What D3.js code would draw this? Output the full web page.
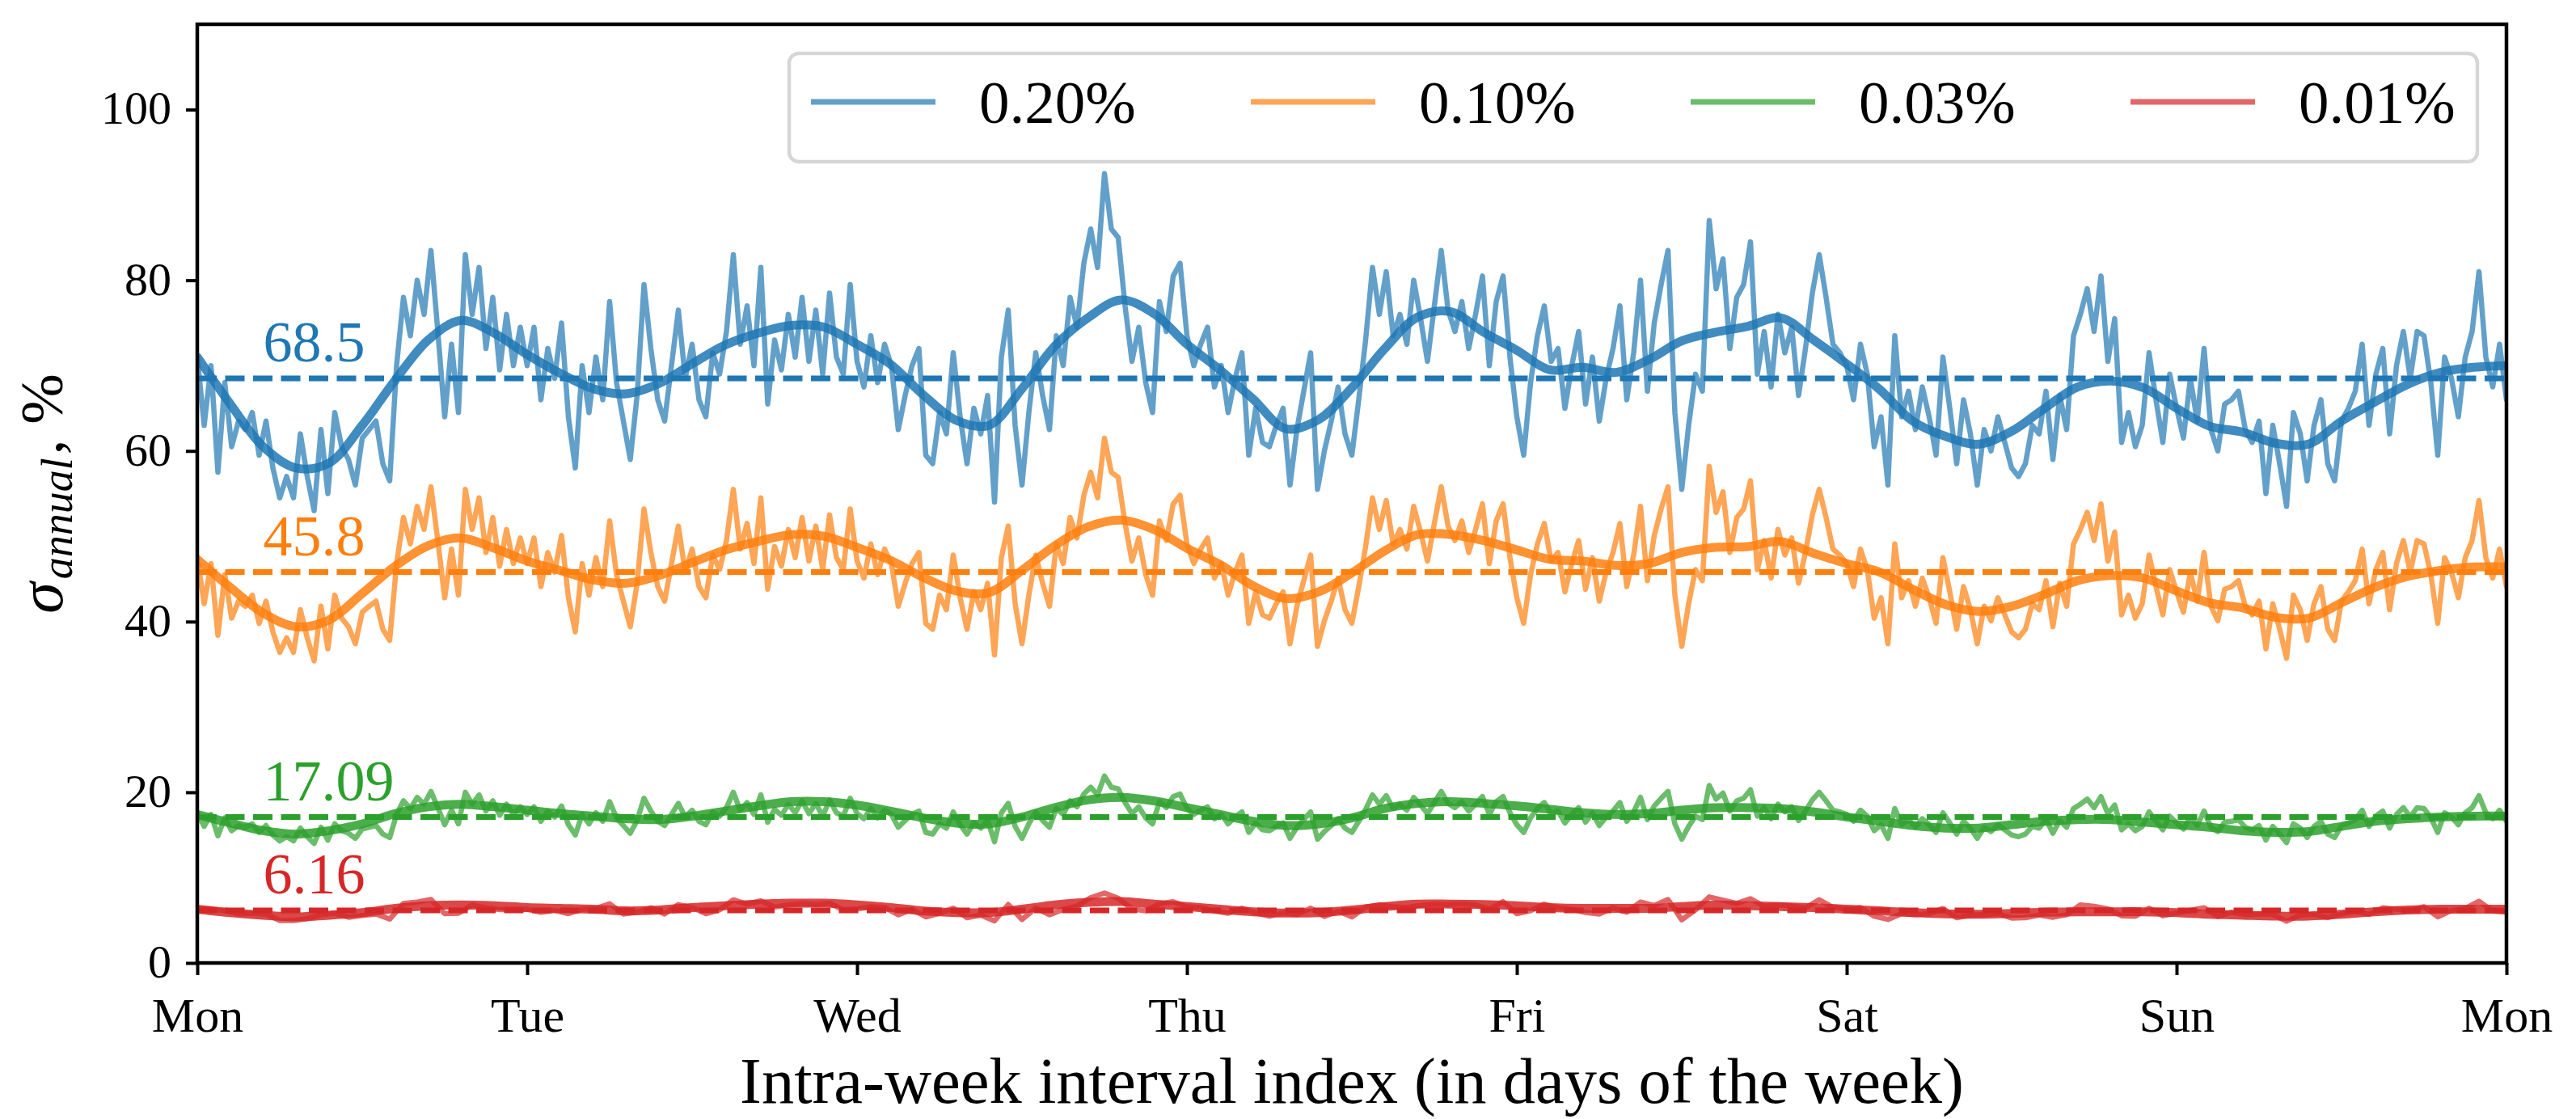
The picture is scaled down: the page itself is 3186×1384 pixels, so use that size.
<!DOCTYPE html>
<html><head><meta charset="utf-8">
<script src="https://cdn.jsdelivr.net/npm/d3@7"></script>
<style>
body{margin:0;background:#fff}
svg{display:block}
text{font-family:"Liberation Serif","Times New Roman",serif;fill:#000}
</style>
</head><body>
<svg id="chart" width="3186" height="1384"></svg>
<script>
// ---------------- data ----------------
const dayLabels = ["Mon","Tue","Wed","Thu","Fri","Sat","Sun","Mon"];
const yTickValues = [0,20,40,60,80,100];
const seriesNames = ["0.20%","0.10%","0.03%","0.01%"];
const seriesColors = ["#1f77b4","#ff7f0e","#2ca02c","#d62728"];
const meanValues = [68.5, 45.8, 17.09, 6.16];
const meanLabels = ["68.5","45.8","17.09","6.16"];

// raw intra-week volatility, half-hour grid (337 points, Mon 00:00 .. next Mon 00:00)
const raw020 = [
71.0,63.0,70.0,57.5,68.0,60.5,63.5,62.5,64.5,59.5,63.5,58.0,54.5,57.0,54.5,62.0,57.0,53.0,62.5,55.0,64.5,60.5,59.0,56.0,61.5,62.5,63.5,58.5,56.5,70.0,78.0,73.5,80.0,76.0,83.5,74.0,64.0,72.5,64.5,83.0,76.0,81.5,72.0,78.0,69.5,76.0,70.0,74.5,
70.0,74.5,66.0,72.0,68.5,75.0,64.0,58.0,70.0,64.5,71.0,66.0,77.5,68.0,63.5,59.0,66.5,79.5,72.0,66.0,63.5,70.0,76.5,68.5,72.5,66.0,64.0,71.5,69.0,74.0,83.0,72.5,77.0,70.0,81.5,65.5,73.0,69.5,76.0,71.0,78.0,70.5,76.5,69.0,78.5,71.0,69.0,79.5,
70.5,67.5,73.5,68.0,72.5,70.0,62.5,66.5,70.0,72.0,59.5,58.5,64.5,62.0,71.5,64.0,58.5,65.0,62.0,66.5,54.0,71.0,76.5,63.0,56.0,64.5,71.5,66.5,62.5,73.5,70.0,78.0,74.5,82.0,86.0,81.5,92.5,86.0,85.0,77.0,70.5,74.5,68.0,64.5,77.5,74.0,80.5,82.0,
73.5,70.0,72.5,74.5,67.5,70.0,64.5,68.5,71.5,59.5,65.0,61.0,60.5,63.0,65.0,56.0,62.5,67.0,71.5,55.5,60.0,63.5,67.5,62.0,59.5,66.0,73.0,81.5,76.0,81.0,73.5,76.0,72.5,80.0,75.5,70.5,77.0,83.5,76.5,74.0,77.5,72.0,76.0,80.5,70.0,77.5,80.5,71.0,
64.0,59.5,68.0,73.5,77.0,70.5,72.0,65.0,70.0,74.0,65.5,71.0,63.5,68.5,72.0,77.0,66.0,71.5,80.0,67.0,75.0,79.5,83.5,64.5,55.5,63.0,69.0,67.0,87.0,79.0,82.5,72.0,78.0,79.5,84.5,69.0,74.0,67.5,76.0,71.5,74.5,66.5,72.0,78.5,83.0,78.0,72.5,71.5,
70.0,66.0,72.5,69.0,60.5,64.0,56.0,73.5,64.0,67.0,62.5,67.5,64.0,59.5,71.0,65.0,58.5,66.0,62.0,56.0,62.5,60.0,64.0,61.0,58.0,57.0,58.5,63.0,62.0,67.0,59.0,66.5,62.5,73.5,76.0,79.0,74.0,80.5,70.5,75.5,61.0,64.5,60.5,63.0,71.5,66.0,61.0,69.0,
65.0,61.5,68.5,63.5,72.0,62.5,60.0,65.5,66.0,67.0,62.5,61.0,63.5,55.0,63.0,58.5,53.5,64.5,62.0,56.5,63.0,66.0,58.5,56.5,63.5,65.0,67.0,72.5,63.0,69.0,72.0,62.0,70.0,74.0,68.5,74.0,73.5,68.0,59.5,71.0,68.5,64.0,71.0,74.0,81.0,71.0,67.5,72.5,66.0
];
const raw010 = [
47.5,42.1,46.8,38.4,45.5,40.4,42.4,41.8,43.1,39.8,42.4,38.8,36.4,38.1,36.4,41.4,38.1,35.4,41.8,36.8,43.1,40.4,39.4,37.4,41.1,41.8,42.4,39.1,37.8,46.8,52.2,49.1,53.5,50.8,55.8,49.5,42.8,48.5,43.1,55.5,50.8,54.5,48.1,52.2,46.5,50.8,46.8,49.8,
46.8,49.8,44.1,48.1,45.8,50.1,42.8,38.8,46.8,43.1,47.5,44.1,51.8,45.5,42.4,39.4,44.5,53.2,48.1,44.1,42.4,46.8,51.2,45.8,48.5,44.1,42.8,47.8,46.1,49.5,55.5,48.5,51.5,46.8,54.5,43.8,48.8,46.5,50.8,47.5,52.2,47.1,51.2,46.1,52.5,47.5,46.1,53.2,
47.1,45.1,49.1,45.5,48.5,46.8,41.8,44.5,46.8,48.1,39.8,39.1,43.1,41.4,47.8,42.8,39.1,43.5,41.4,44.5,36.1,47.5,51.2,42.1,37.4,43.1,47.8,44.5,41.8,49.1,46.8,52.2,49.8,54.8,57.5,54.5,61.5,57.5,56.9,51.5,47.1,49.8,45.5,43.1,51.8,49.5,53.8,54.8,
49.1,46.8,48.5,49.8,45.1,46.8,43.1,45.8,47.8,39.8,43.5,40.8,40.4,42.1,43.5,37.4,41.8,44.8,47.8,37.1,40.1,42.4,45.1,41.4,39.8,44.1,48.8,54.5,50.8,54.2,49.1,50.8,48.5,53.5,50.5,47.1,51.5,55.8,51.2,49.5,51.8,48.1,50.8,53.8,46.8,51.8,53.8,47.5,
42.8,39.8,45.5,49.1,51.5,47.1,48.1,43.5,46.8,49.5,43.8,47.5,42.4,45.8,48.1,51.5,44.1,47.8,53.5,44.8,50.1,53.2,55.8,43.1,37.1,42.1,46.1,44.8,58.2,52.8,55.2,48.1,52.2,53.2,56.5,46.1,49.5,45.1,50.8,47.8,49.8,44.5,48.1,52.5,55.5,52.2,48.5,47.8,
46.8,44.1,48.5,46.1,40.4,42.8,37.4,49.1,42.8,44.8,41.8,45.1,42.8,39.8,47.5,43.5,39.1,44.1,41.4,37.4,41.8,40.1,42.8,40.8,38.8,38.1,39.1,42.1,41.4,44.8,39.4,44.5,41.8,49.1,50.8,52.8,49.5,53.8,47.1,50.5,40.8,43.1,40.4,42.1,47.8,44.1,40.8,46.1,
43.5,41.1,45.8,42.4,48.1,41.8,40.1,43.8,44.1,44.8,41.8,40.8,42.4,36.8,42.1,39.1,35.7,43.1,41.4,37.8,42.1,44.1,39.1,37.8,42.4,43.5,44.8,48.5,42.1,46.1,48.1,41.4,46.8,49.5,45.8,49.5,49.1,45.5,39.8,47.5,45.8,42.8,47.5,49.5,54.2,47.5,45.1,48.5,44.1
];
const raw003 = [
17.6,16.0,17.4,14.9,17.0,15.5,16.1,15.9,16.3,15.3,16.1,15.0,14.3,14.8,14.3,15.8,14.8,14.0,15.9,14.4,16.3,15.5,15.2,14.6,15.7,15.9,16.1,15.1,14.7,17.4,19.0,18.1,19.4,18.6,20.1,18.2,16.2,17.9,16.3,20.0,18.6,19.7,17.8,19.0,17.3,18.6,17.4,18.3,
17.4,18.3,16.6,17.8,17.1,18.4,16.2,15.0,17.4,16.3,17.6,16.6,18.9,17.0,16.1,15.2,16.7,19.3,17.8,16.6,16.1,17.4,18.7,17.1,17.9,16.6,16.2,17.7,17.2,18.2,20.0,17.9,18.8,17.4,19.7,16.5,18.0,17.3,18.6,17.6,19.0,17.5,18.7,17.2,19.1,17.6,17.2,19.3,
17.5,16.9,18.1,17.0,17.9,17.4,15.9,16.7,17.4,17.8,15.3,15.1,16.3,15.8,17.7,16.2,15.1,16.4,15.8,16.7,14.2,17.6,18.7,16.0,14.6,16.3,17.7,16.7,15.9,18.1,17.4,19.0,18.3,19.8,20.6,19.7,21.9,20.6,20.4,18.8,17.5,18.3,17.0,16.3,18.9,18.2,19.5,19.8,
18.1,17.4,17.9,18.3,16.9,17.4,16.3,17.1,17.7,15.3,16.4,15.6,15.5,16.0,16.4,14.6,15.9,16.8,17.7,14.5,15.4,16.1,16.9,15.8,15.3,16.6,18.0,19.7,18.6,19.6,18.1,18.6,17.9,19.4,18.5,17.5,18.8,20.1,18.7,18.2,18.9,17.8,18.6,19.5,17.4,18.9,19.5,17.6,
16.2,15.3,17.0,18.1,18.8,17.5,17.8,16.4,17.4,18.2,16.5,17.6,16.1,17.1,17.8,18.8,16.6,17.7,19.4,16.8,18.4,19.3,20.1,16.3,14.5,16.0,17.2,16.8,20.8,19.2,19.9,17.8,19.0,19.3,20.3,17.2,18.2,16.9,18.6,17.7,18.3,16.7,17.8,19.1,20.0,19.0,17.9,17.7,
17.4,16.6,17.9,17.2,15.5,16.2,14.6,18.1,16.2,16.8,15.9,16.9,16.2,15.3,17.6,16.4,15.1,16.6,15.8,14.6,15.9,15.4,16.2,15.6,15.0,14.8,15.1,16.0,15.8,16.8,15.2,16.7,15.9,18.1,18.6,19.2,18.2,19.5,17.5,18.5,15.6,16.3,15.5,16.0,17.7,16.6,15.6,17.2,
16.4,15.7,17.1,16.1,17.8,15.9,15.4,16.5,16.6,16.8,15.9,15.6,16.1,14.4,16.0,15.1,14.1,16.3,15.8,14.7,16.0,16.6,15.1,14.7,16.1,16.4,16.8,17.9,16.0,17.2,17.8,15.8,17.4,18.2,17.1,18.2,18.1,17.0,15.3,17.6,17.1,16.2,17.6,18.2,19.6,17.6,16.9,17.9,16.6
];
// hourly grid (169 points)
const raw001 = [
6.38,6.29,6.12,5.74,5.82,5.74,4.97,4.97,5.19,5.65,5.82,5.36,5.57,5.74,5.14,6.97,7.14,7.44,5.78,5.82,6.80,6.46,6.25,6.29,
6.29,5.95,6.16,5.78,6.29,6.38,6.93,5.74,5.99,6.46,5.74,6.84,6.50,5.78,6.21,7.40,6.89,7.27,6.55,6.80,6.97,6.84,7.01,6.21,
6.33,6.59,6.50,5.65,6.29,5.40,5.82,6.42,5.31,5.61,4.93,6.84,5.10,6.42,5.65,6.29,6.67,7.65,8.20,7.57,6.33,6.12,6.93,7.18,
6.59,6.50,6.08,5.82,6.42,5.87,5.48,5.87,5.65,6.42,5.44,6.08,5.40,6.55,6.80,6.59,6.50,6.76,6.89,6.84,6.93,6.80,6.29,7.18,
5.78,6.12,6.89,6.46,6.29,5.91,5.74,6.46,5.95,7.14,6.72,7.44,5.06,6.21,7.74,7.35,6.97,7.52,6.63,6.80,6.67,6.46,7.40,6.50,
6.29,6.50,5.48,5.10,5.78,5.65,5.78,6.38,5.31,5.61,5.65,5.78,5.27,5.31,5.61,5.36,5.65,6.80,6.63,6.33,5.53,5.48,6.42,5.53,
5.87,6.16,6.46,5.44,5.95,5.65,5.74,5.70,4.89,5.61,5.70,5.31,5.74,6.04,5.70,6.46,6.29,6.16,6.59,5.40,6.16,6.38,7.23,6.08,5.95
];

// smoothed curves, every 0.1 day (71 points)
const smooth020 = [71.0,65.5,60.5,58.0,58.6,63.0,68.3,73.0,75.3,73.8, 71.3,69.1,67.3,66.7,67.9,70.2,72.4,73.8,74.7,74.5,
 72.5,70.2,66.6,63.6,63.0,67.3,72.3,75.6,77.7,76.1, 72.5,69.5,66.1,62.6,63.7,67.4,72.0,75.7,76.3,73.9,
 71.8,69.5,69.8,69.2,70.7,72.9,73.9,74.6,75.6,73.0, 70.2,67.2,63.5,61.7,60.8,62.3,65.0,67.5,68.2,67.4,
 65.0,62.9,62.2,60.9,60.8,63.5,65.7,67.8,69.2,69.8, 70.0];
const smooth010 = [47.3,44.0,41.0,39.4,40.2,43.3,46.5,48.9,49.8,48.6, 47.1,46.0,44.9,44.5,45.4,46.9,48.4,49.4,50.2,50.0,
 48.7,47.2,45.2,43.6,43.4,46.0,48.9,51.1,51.9,50.8, 48.6,46.7,44.2,42.7,43.5,45.7,48.3,50.2,50.2,49.5,
 48.4,47.3,47.1,46.6,46.8,48.1,48.7,48.8,49.4,48.0, 46.8,45.8,43.8,42.0,41.2,41.8,43.2,44.8,45.4,45.1,
 43.6,42.2,41.6,40.5,40.4,42.2,44.0,45.3,46.0,46.4, 46.4];
const smooth003 = [17.4,16.4,15.5,15.1,15.5,16.3,17.5,18.3,18.6,18.3, 17.9,17.5,17.2,16.9,16.8,17.2,17.8,18.4,18.9,18.9,
 18.5,17.8,17.0,16.4,16.3,17.1,18.2,19.1,19.4,19.0, 18.2,17.4,16.6,16.1,16.3,17.0,18.1,18.7,18.9,18.7,
 18.4,18.0,17.6,17.4,17.5,17.9,18.2,18.2,18.1,17.7, 17.1,16.6,16.1,15.8,15.8,16.2,16.6,16.8,16.8,16.5,
 16.2,15.9,15.5,15.3,15.4,16.0,16.6,16.9,17.1,17.2, 17.2];
const smooth001 = [6.3,5.9,5.6,5.4,5.6,5.9,6.4,6.7,6.8,6.7, 6.5,6.4,6.3,6.1,6.2,6.5,6.7,6.9,7.0,7.0,
 6.8,6.5,6.1,5.9,5.9,6.3,6.8,7.1,7.2,6.9, 6.6,6.3,6.0,5.85,5.9,6.2,6.6,6.9,6.9,6.85,
 6.7,6.5,6.4,6.4,6.4,6.6,6.8,6.7,6.6,6.5, 6.3,6.1,5.9,5.75,5.7,5.8,5.95,6.0,6.0,6.0,
 5.9,5.7,5.6,5.5,5.5,5.7,6.0,6.2,6.3,6.3, 6.3];

const rawSeries = [raw020, raw010, raw003, raw001];
const smoothSeries = [smooth020, smooth010, smooth003, smooth001];

// ---------------- layout ----------------
const W = 3186, H = 1384;
const L = 244, R = 3100, T = 30, B = 1191;
const x = d3.scaleLinear().domain([0, 7]).range([L, R]);
const y = d3.scaleLinear().domain([0, 110]).range([B, T]);

const svg = d3.select("#chart");
svg.append("rect").attr("width", W).attr("height", H).attr("fill", "#fff");
svg.append("defs").append("clipPath").attr("id", "clip")
  .append("rect").attr("x", L).attr("y", T).attr("width", R - L).attr("height", B - T);

const plot = svg.append("g").attr("clip-path", "url(#clip)");

rawSeries.forEach((arr, k) => {
  const step = 7 / (arr.length - 1);
  const line = d3.line().x((d, i) => x(i * step)).y(d => y(d));
  plot.append("path").datum(arr).attr("d", line)
    .attr("fill", "none").attr("stroke", seriesColors[k]).attr("stroke-opacity", 0.7)
    .attr("stroke-width", 6.5).attr("stroke-linejoin", "round").attr("stroke-linecap", "round");

  const sm = smoothSeries[k];
  const sstep = 7 / (sm.length - 1);
  const sline = d3.line().x((d, i) => x(i * sstep)).y(d => y(d)).curve(d3.curveCatmullRom);
  plot.append("path").datum(sm).attr("d", sline)
    .attr("fill", "none").attr("stroke", seriesColors[k]).attr("stroke-opacity", 0.85)
    .attr("stroke-width", 11).attr("stroke-linejoin", "round").attr("stroke-linecap", "round");

  plot.append("line")
    .attr("x1", x(0)).attr("x2", x(7))
    .attr("y1", y(meanValues[k])).attr("y2", y(meanValues[k]))
    .attr("stroke", seriesColors[k]).attr("stroke-width", 7)
    .attr("stroke-dasharray", "24 10.5");
});

// mean annotations
meanValues.forEach((v, k) => {
  svg.append("text").attr("x", x(0.2)).attr("y", y(v) - 21)
    .attr("font-size", 72).style("fill", seriesColors[k])
    .text(meanLabels[k]);
});

// axes
const xAxis = d3.axisBottom(x).tickValues(d3.range(8)).tickFormat(i => dayLabels[i]).tickSize(15);
const gx = svg.append("g").attr("transform", `translate(0,${B})`).call(xAxis);
gx.select(".domain").remove();
gx.selectAll(".tick line").attr("stroke", "#000").attr("stroke-width", 4);
gx.selectAll(".tick text").attr("y", 85).attr("dy", null)
  .attr("font-size", 60).attr("font-family", "Liberation Serif, serif");

const yAxis = d3.axisLeft(y).tickValues(yTickValues).tickSize(14).tickPadding(18);
const gy = svg.append("g").attr("transform", `translate(${L},0)`).call(yAxis);
gy.select(".domain").remove();
gy.selectAll(".tick line").attr("stroke", "#000").attr("stroke-width", 4);
gy.selectAll(".tick text").attr("font-size", 58).attr("dy", "0.30em")
  .attr("font-family", "Liberation Serif, serif");

// frame
svg.append("rect").attr("x", L).attr("y", T).attr("width", R - L).attr("height", B - T)
  .attr("fill", "none").attr("stroke", "#000").attr("stroke-width", 4.5);

// legend
const lg = svg.append("g");
lg.append("rect").attr("x", 976).attr("y", 66).attr("width", 2088).attr("height", 134)
  .attr("rx", 12).attr("fill", "#fff").attr("fill-opacity", 0.8)
  .attr("stroke", "#d6d6d6").attr("stroke-width", 4.5);
seriesNames.forEach((name, k) => {
  const hx = 1003 + 544 * k;
  lg.append("line").attr("x1", hx).attr("x2", hx + 154).attr("y1", 126).attr("y2", 126)
    .attr("stroke", seriesColors[k]).attr("stroke-opacity", 0.7).attr("stroke-width", 7);
  lg.append("text").attr("x", hx + 208).attr("y", 152).attr("font-size", 75).text(name);
});

// x label
const xl = svg.append("text").attr("x", (L + R) / 2).attr("y", 1364)
  .attr("text-anchor", "middle").attr("font-size", 75)
  .text("Intra-week interval index (in days of the week)");
const len = xl.node().getComputedTextLength();
if (len > 0) xl.attr("font-size", Math.min(83, 75 * 1514 / len));

// y label: sigma + subscript + ", %" laid out as consecutive pieces along the rotated baseline
const yg = svg.append("g").attr("transform", `translate(77,${(T + B) / 2}) rotate(-90)`);
const parts = [
  {t: "σ", size: 78, italic: true, dy: 0},
  {t: "annual", size: 54, italic: true, dy: 12},
  {t: ", %", size: 75, italic: false, dy: 0}
];
const nodes = parts.map(p => yg.append("text").attr("font-size", p.size)
  .attr("font-style", p.italic ? "italic" : "normal").attr("y", p.dy).text(p.t));
const widths = nodes.map(n => n.node().getComputedTextLength());
const gap = 4;
const total = widths.reduce((a, b) => a + b, 0) + gap * 2;
let cx = -total / 2;
nodes.forEach((n, i) => { n.attr("x", cx); cx += widths[i] + gap; });
</script>
</body></html>
